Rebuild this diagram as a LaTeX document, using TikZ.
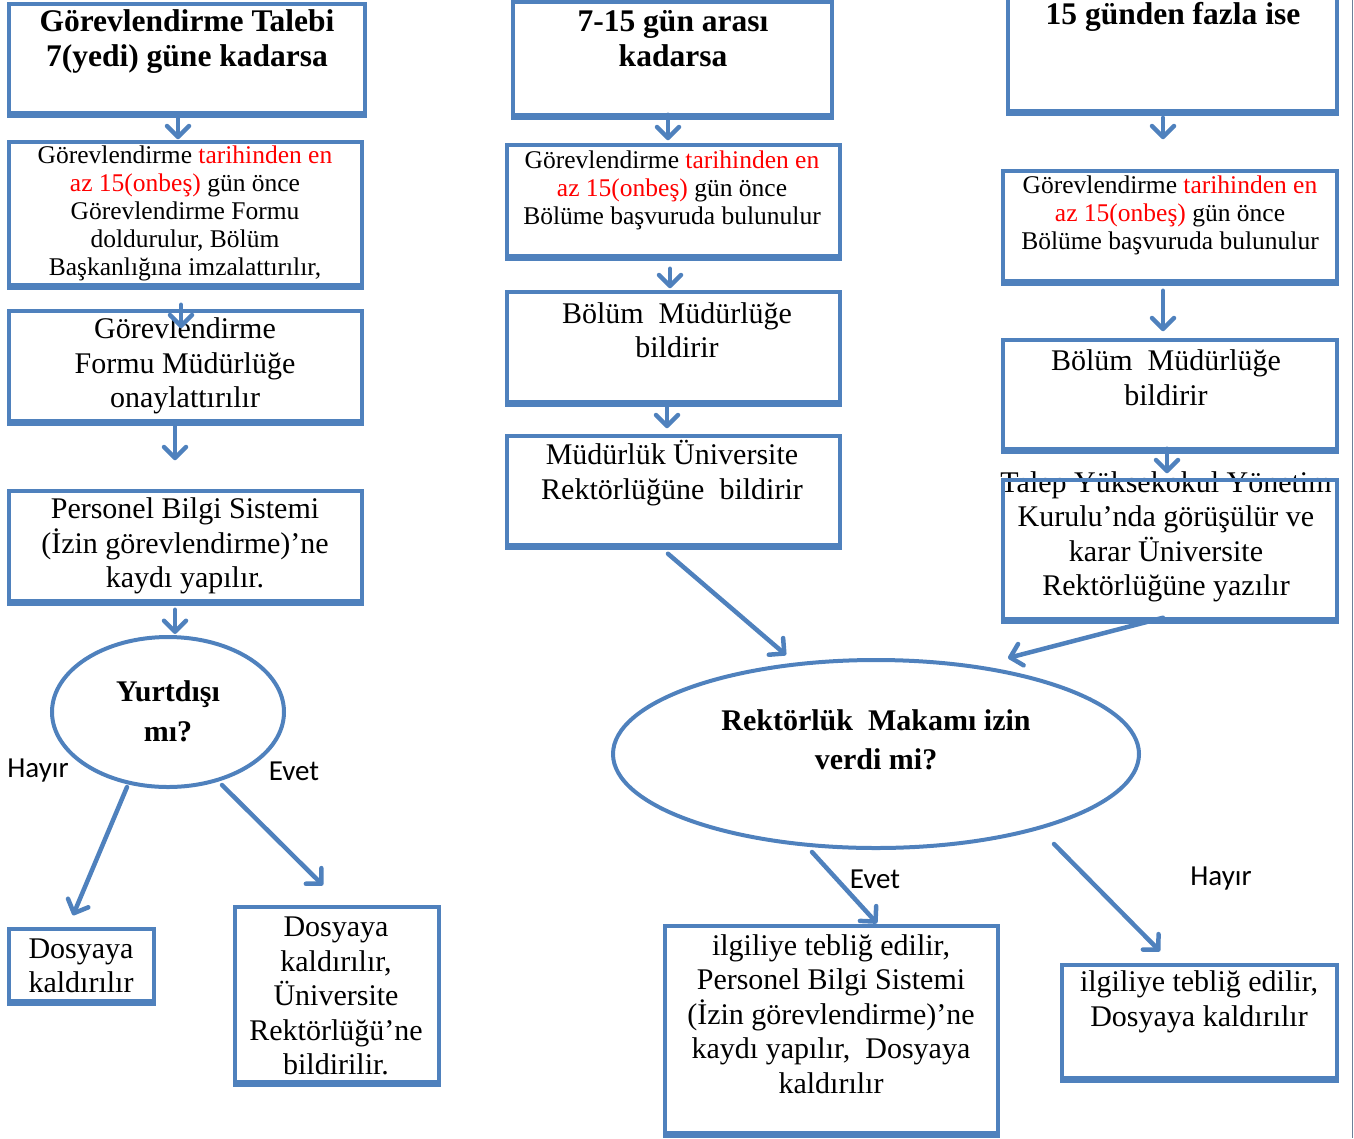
\documentclass[tikz,border=0pt]{standalone}
\usepackage{fontspec}
\setmainfont{Liberation Serif}
\newfontfamily\calib{Carlito}
\usetikzlibrary{arrows.meta,calc,shapes.geometric}
\definecolor{bl}{HTML}{4F81BD}
\definecolor{rd}{HTML}{FF0000}
\newcommand\redt[1]{\textcolor{rd}{#1}}
\begin{document}
\begin{tikzpicture}[x=1pt,y=-1pt,
  box/.style={draw=bl, line width=3.5pt, inner sep=0pt, rectangle,
    append after command={([yshift=-1pt]\tikzlastnode.south west) edge[draw=bl, line width=4pt, -] ([yshift=-1pt]\tikzlastnode.south east)}},
  oval/.style={draw=bl, line width=4pt, ellipse, inner sep=0pt},
  arr/.style={draw=bl, line width=4.5pt, line cap=round, -{Straight Barb[length=11pt,width=22pt,round]}},
  sm/.style={align=center, inner sep=0pt, font=\fontsize{25.5pt}{28pt}\selectfont},
  lg/.style={align=center, inner sep=0pt, font=\fontsize{30pt}{34.5pt}\selectfont},
  bd/.style={align=center, inner sep=0pt, font=\fontsize{31.5pt}{35pt}\selectfont\bfseries},
  lab/.style={inner sep=0pt, font=\fontsize{29pt}{30pt}\calib}]
\useasboundingbox (0,0) rectangle (1354,1138);
\draw[gray!60!bl, line width=1pt] (1352,0) -- (1352,1138);

% left column
\node[box, minimum width=356, minimum height=109] (a1) at (187,58.5) {};
\node[bd] (a1t) at (187,41.5) {Görevlendirme Talebi\\7(yedi) güne kadarsa};
\node[box, minimum width=353, minimum height=143] (a2) at (185.5,213.5) {};
\node[sm] (a2t) at (185,213) {Görevlendirme \redt{tarihinden en}\\\redt{az 15(onbeş)} gün önce\\Görevlendirme Formu\\doldurulur, Bölüm\\Başkanlığına imzalattırılır,};
\node[box, minimum width=353, minimum height=110] (a3) at (185.5,366) {};
\node[lg] (a3t) at (185,366) {Görevlendirme\\Formu Müdürlüğe\\onaylattırılır};
\node[box, minimum width=353, minimum height=110] (a4) at (185.5,546) {};
\node[lg] (a4t) at (185,546) {Personel Bilgi Sistemi\\(İzin görevlendirme)’ne\\kaydı yapılır.};
\node[oval, minimum width=232, minimum height=150] (yy) at (168,712) {};
\node[align=center, inner sep=0pt, font=\fontsize{30pt}{40pt}\selectfont\bfseries] (yyt) at (168,711) {Yurtdışı\\mı?};
\node[box, minimum width=145, minimum height=72] (d1) at (81.5,965) {};
\node[lg] (d1t) at (81,966) {Dosyaya\\kaldırılır};
\node[box, minimum width=204, minimum height=175] (d2) at (337,994.5) {};
\node[lg] (d2t) at (336,996) {Dosyaya\\kaldırılır,\\Üniversite\\Rektörlüğü’ne\\bildirilir.};
\node[lab] (h1) at (38,771) {Hayır};
\node[lab] (e1) at (294,771) {Evet};

% middle column
\node[box, minimum width=319, minimum height=113] (b1) at (672.5,58.5) {};
\node[bd] (b1t) at (673,39) {7-15 gün arası\\kadarsa};
\node[box, minimum width=333, minimum height=111] (b2) at (673.5,200.5) {};
\node[sm] (b2t) at (672,190.5) {Görevlendirme \redt{tarihinden en}\\\redt{az 15(onbeş)} gün önce\\Bölüme başvuruda bulunulur};
\node[box, minimum width=333, minimum height=110] (b3) at (673.5,347) {};
\node[lg] (b3t) at (677,330) {Bölüm\ \ Müdürlüğe\\bildirir};
\node[box, minimum width=333, minimum height=109] (b4) at (673.5,490.5) {};
\node[lg] (b4t) at (672,473) {Müdürlük Üniversite\\Rektörlüğüne\ \ bildirir};
\node[oval, minimum width=526, minimum height=188] (rr) at (876,754) {};
\node[align=center, inner sep=0pt, font=\fontsize{30pt}{39pt}\selectfont\bfseries] (rrt) at (876,740) {Rektörlük\ \ Makamı izin\\verdi mi?};
\node[box, minimum width=333, minimum height=207] (c1) at (831.5,1029.5) {};
\node[lg] (c1t) at (831,1014) {ilgiliye tebliğ edilir,\\Personel Bilgi Sistemi\\(İzin görevlendirme)’ne\\kaydı yapılır,\ \ Dosyaya\\kaldırılır};
\node[box, minimum width=275, minimum height=113] (dd) at (1199.5,1021.5) {};
\node[lg] (ddt) at (1199,1002) {ilgiliye tebliğ edilir,\\Dosyaya kaldırılır};
\node[lab] (e2) at (875,879) {Evet};
\node[lab] (h2) at (1221,879) {Hayır};

% right column
\node[box, minimum width=329, minimum height=118] (r1) at (1172.5,52) {};
\node[bd] (r1t) at (1173,17) {15 günden fazla ise};
\node[box, minimum width=334, minimum height=110] (r2) at (1170,226) {};
\node[sm] (r2t) at (1170,215.5) {Görevlendirme \redt{tarihinden en}\\\redt{az 15(onbeş)} gün önce\\Bölüme başvuruda bulunulur};
\node[box, minimum width=334, minimum height=109] (r3) at (1170,394.5) {};
\node[lg] (r3t) at (1166,377.5) {Bölüm\ \ Müdürlüğe\\bildirir};
\node[lg] (r4t) at (1166,537) {Talep Yüksekokul Yönetim\\Kurulu’nda görüşülür ve\\karar Üniversite\\Rektörlüğüne yazılır};
\node[box, minimum width=334, minimum height=139] (r4) at (1170,549.5) {};

% connectors
\draw[arr] ($(a1.south)+(-9,1)$) -- ($(a2.north)+(-7.5,-1)$);
\draw[arr] ($(a2.south)+(-4.5,18)$) -- ($(a3.north)+(-4.5,19)$);
\draw[arr] ($(a3.south)+(-10.5,2)$) -- ($(a4.north)+(-10.5,-29)$);
\draw[arr] ($(a4.south)+(-10.5,7)$) -- ($(yy.north)+(7,-1)$);
\draw[arr] ($(yy.south)+(-41,-2)$) -- ($(d1.north)+(-8.5,-12)$);
\draw[arr] ($(yy.south)+(54,-4)$) -- ($(d2.north)+(-14,-20)$);
\draw[arr] ($(b1.south)+(-4.5,-2)$) -- ($(b2.north)+(-5.5,-3)$);
\draw[arr] ($(b2.south)+(-3.5,11)$) -- ($(b3.north)+(-3.5,-2)$);
\draw[arr] ($(b3.south)+(-6.5,2)$) -- ($(b4.north)+(-6.5,-6)$);
\draw[arr] ($(b4.south)+(-5.5,7)$) -- ($(rr.north)+(-90,-3)$);
\draw[arr] ($(r1.south)+(-9.5,5)$) -- ($(r2.north)+(-7,-30)$);
\draw[arr] ($(r2.south)+(-7,8)$) -- ($(r3.north)+(-7,-7)$);
\draw[arr] ($(r3.south)+(-3,-2)$) -- ($(r4.north)+(-3,-5)$);
\draw[arr] ($(r4.south)+(-7,-3)$) -- ($(rr.north)+(132,0)$);
\draw[arr] ($(rr.south)+(-64,2)$) -- ($(c1.north)+(45.5,-1)$);
\draw[arr] ($(rr.south)+(178,-6)$) -- ($(dd.north)+(-39.5,-12)$);
\end{tikzpicture}
\end{document}
